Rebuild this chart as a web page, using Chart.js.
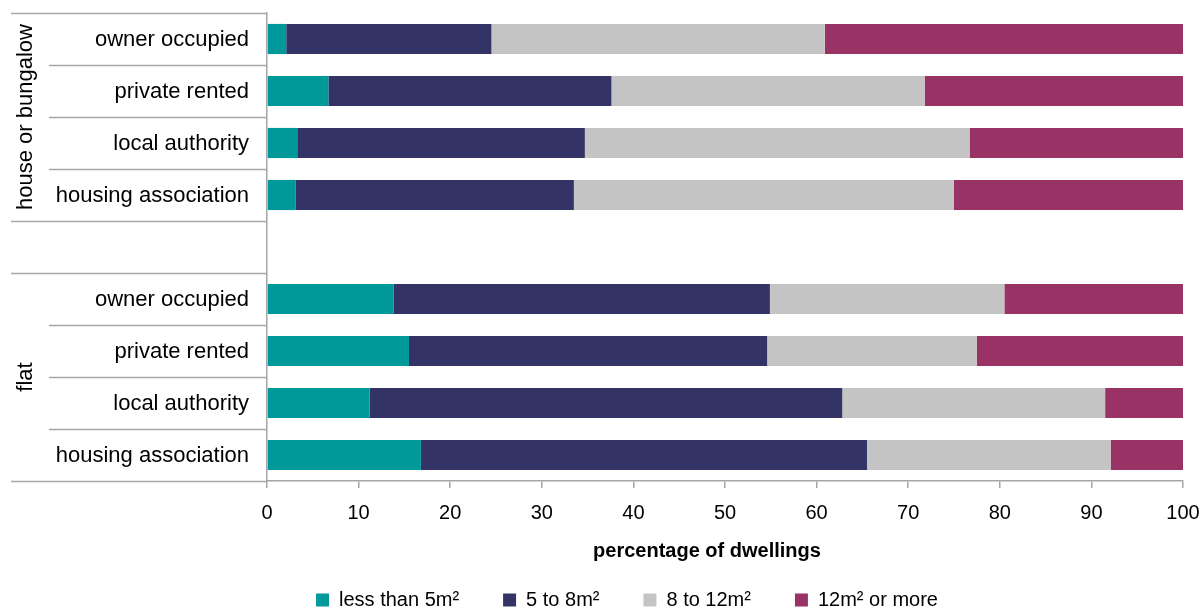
<!DOCTYPE html>
<html>
<head>
<meta charset="utf-8">
<script src="https://cdn.jsdelivr.net/npm/chart.js@4"></script>
<style>
  html, body { margin: 0; padding: 0; background: #fff; overflow: hidden; height: 608px; }
  #wrap { width: 1203px; height: 620px; }
</style>
</head>
<body>
<div id="wrap"><canvas id="sizeChart" width="1203" height="620"></canvas></div>
<script>
// ===== DATA =====
const categories = ['owner occupied', 'private rented', 'local authority', 'housing association', '',
  'owner occupied', 'private rented', 'local authority', 'housing association'];
const lessThan5 = [2.1, 6.7, 3.3, 3.1, null, 13.8, 15.5, 11.2, 16.8];
const from5to8 = [22.4, 30.9, 31.4, 30.4, null, 41.1, 39.1, 51.6, 48.7];
const from8to12 = [36.4, 34.2, 42.0, 41.5, null, 25.6, 22.9, 28.7, 26.6];
const over12 = [39.1, 28.2, 23.3, 25.0, null, 19.5, 22.5, 8.5, 7.9];
const seriesNames = ['less than 5m²', '5 to 8m²', '8 to 12m²', '12m² or more'];
const groupLabels = ['house or bungalow', 'flat'];
const groupRows = [[0, 3], [5, 8]];
const xTicks = [0, 10, 20, 30, 40, 50, 60, 70, 80, 90, 100];

const FONT = "'Liberation Sans', Arial, sans-serif";
const LINE = '#a6a6a6';
Chart.defaults.font.family = FONT;
Chart.defaults.color = '#000';

// ===== CATEGORY AXIS DRAWING (labels, multi-level lines, group labels, axis title) =====
// the y scale clips its own tick labels to its box, so the labels are drawn here
const categoryAxis = {
  id: 'categoryAxis',
  afterDraw(chart) {
    const ctx = chart.ctx;
    const y = chart.scales.y;
    const area = chart.chartArea;
    const n = categories.length;
    const groupEdges = [];
    groupRows.forEach(r => { groupEdges.push(r[0]); groupEdges.push(r[1] + 1); });

    ctx.save();
    ctx.strokeStyle = LINE;
    ctx.lineWidth = 1.5;
    for (let b = 0; b <= n; b++) {
      const py = Math.round(y.getPixelForValue(b - 0.5)) + 0.5;
      const startX = groupEdges.includes(b) ? 11 : 49;
      ctx.beginPath();
      ctx.moveTo(startX, py);
      ctx.lineTo(area.left, py);
      ctx.stroke();
    }

    // category labels
    ctx.fillStyle = '#000';
    ctx.font = '22px ' + FONT;
    ctx.textAlign = 'right';
    ctx.textBaseline = 'middle';
    categories.forEach((c, i) => {
      ctx.fillText(c, area.left - 18, y.getPixelForValue(i) + 1);
    });

    // group labels, rotated
    ctx.textAlign = 'center';
    groupRows.forEach((r, i) => {
      const cy = (y.getPixelForValue(r[0] - 0.5) + y.getPixelForValue(r[1] + 0.5)) / 2;
      ctx.save();
      ctx.translate(26, cy);
      ctx.rotate(-Math.PI / 2);
      ctx.fillText(groupLabels[i], 0, 0);
      ctx.restore();
    });

    // x axis title
    ctx.font = 'bold 20px ' + FONT;
    ctx.fillText('percentage of dwellings', 707, 551);
    ctx.restore();
  }
};

// ===== CHART =====
const ctx = document.getElementById('sizeChart').getContext('2d');
new Chart(ctx, {
  type: 'bar',
  data: {
    labels: categories,
    datasets: [
      { label: seriesNames[0], data: lessThan5, backgroundColor: '#009999' },
      { label: seriesNames[1], data: from5to8, backgroundColor: '#333366' },
      { label: seriesNames[2], data: from8to12, backgroundColor: '#c4c4c4' },
      { label: seriesNames[3], data: over12, backgroundColor: '#993366' }
    ].map(d => Object.assign(d, { borderWidth: 0, barPercentage: 0.58, categoryPercentage: 1 }))
  },
  options: {
    indexAxis: 'y',
    responsive: false,
    animation: false,
    layout: { padding: { top: 13, left: 71, right: 20, bottom: 0 } },
    plugins: {
      tooltip: { enabled: false },
      legend: {
        position: 'bottom',
        labels: {
          boxWidth: 13,
          boxHeight: 13,
          padding: 44,
          color: '#000',
          font: { size: 20 }
        }
      }
    },
    scales: {
      x: {
        stacked: true,
        min: 0,
        max: 100,
        afterBuildTicks: s => { s.ticks = xTicks.map(v => ({ value: v })); },
        afterFit: s => { s.height = 65; s.paddingLeft = 0; s.paddingRight = 0; },
        grid: { drawOnChartArea: false, drawTicks: true, tickLength: 7, color: LINE, lineWidth: 1.5 },
        border: { display: true, color: LINE, width: 1.5 },
        ticks: { color: '#000', font: { size: 20 }, padding: 13, maxRotation: 0 }
      },
      y: {
        stacked: true,
        afterFit: s => { s.width = 196; s.paddingTop = 0; s.paddingBottom = 0; },
        grid: { display: false, drawTicks: false },
        border: { display: true, color: LINE, width: 1.5 },
        ticks: { display: false }
      }
    }
  },
  plugins: [categoryAxis]
});
</script>
</body>
</html>
